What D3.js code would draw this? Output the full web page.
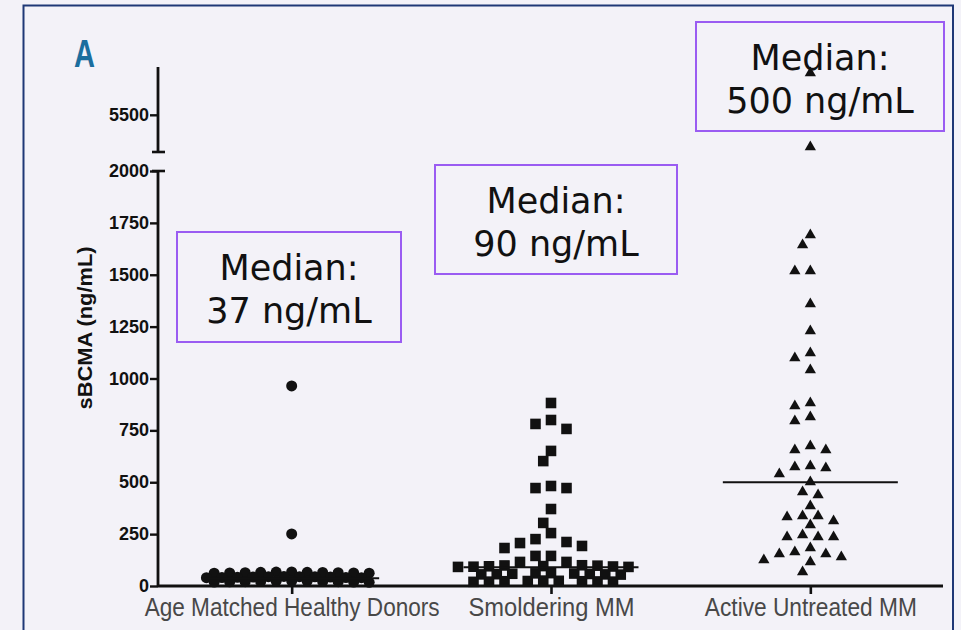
<!DOCTYPE html>
<html>
<head>
<meta charset="utf-8">
<script src="https://cdn.jsdelivr.net/npm/d3@7"></script>
<style>
  html, body { margin: 0; padding: 0; background: #f3f2f8; }
  svg { display: block; }
</style>
</head>
<body>
<svg id="chart" width="961" height="630"></svg>
<script>
// Groups on the x axis
const categories = ["Age Matched Healthy Donors", "Smoldering MM", "Active Untreated MM"];

// sBCMA (ng/mL) per subject
const healthyValues = [964, 251,
  68, 67, 66, 66, 65, 64, 64, 63, 63, 62, 62,
  46, 45, 45, 44, 43, 43, 42, 41, 41, 40, 40,
  24, 23, 23, 22, 22, 21, 21, 20, 19, 19, 18];
const smolderingValues = [882, 800, 781, 757, 651, 602, 482, 472, 472, 371, 304, 255, 226, 212, 207, 193, 183, 145, 145, 116, 116,
  100, 99, 98, 96, 95, 94, 93, 92, 92,
  62, 61, 60, 59, 58, 57, 56, 56, 55,
  26, 25, 24, 23, 23, 22, 21, 21, 20];
const activeValues = [9440, 2470, 1692, 1643, 1518, 1518, 1359, 1229, 1123, 1099, 1041, 882, 867, 814, 795, 675, 655, 655,
  578, 573, 569, 540, 501, 453, 439, 386, 337, 337, 333, 313, 294, 246, 236, 236, 236, 183, 164, 154, 154, 140, 125, 116, 67];

// Group medians and their call-out text
const medians = [37, 90, 500];
const medianTexts = ["37 ng/mL", "90 ng/mL", "500 ng/mL"];

// Axis ticks (the y axis is broken above 2000)
const lowTicks = [0, 250, 500, 750, 1000, 1250, 1500, 1750, 2000];
const highTicks = [5500];

const svg = d3.select("#chart");
const ink = "#111";

// Outer panel frame
svg.append("rect")
  .attr("x", 23.5).attr("y", 5.5).attr("width", 929.5).attr("height", 700)
  .attr("fill", "none").attr("stroke", "#1f3876").attr("stroke-width", 2);

// Panel letter
svg.append("text")
  .attr("x", 74).attr("y", 67)
  .attr("font-family", "'Liberation Sans Narrow', 'Arial Narrow', 'Liberation Sans', sans-serif")
  .attr("font-weight", "bold").attr("font-size", 39)
  .attr("textLength", 21).attr("lengthAdjust", "spacingAndGlyphs")
  .attr("fill", "#1b6e9e")
  .text("A");

// Scales
const axisX = 158;
const x = d3.scalePoint().domain(categories).range([162, 940]).padding(0.5);
const yLow = d3.scaleLinear().domain([0, 2000]).range([586, 171]);
const yHigh = d3.scaleLinear().domain([2000, 10000]).range([152, 67]);
const yPos = v => v <= 2000 ? yLow(v) : yHigh(v);

const tickFont = "'Liberation Sans', Arial, Helvetica, sans-serif";

// Y axes (lower and upper segments)
function styleAxis(g) {
  g.select(".domain").remove();
  g.selectAll(".tick line").attr("stroke", ink).attr("stroke-width", 2.4);
  g.selectAll(".tick text")
    .attr("font-family", tickFont).attr("font-weight", "bold")
    .attr("font-size", 17.5).attr("fill", ink).attr("x", -9)
    .attr("textLength", d => String(d).length * 10)
    .attr("lengthAdjust", "spacingAndGlyphs");
}
svg.append("g").attr("transform", `translate(${axisX},0)`)
  .call(d3.axisLeft(yLow).tickValues(lowTicks).tickSize(8).tickFormat(d3.format("d")))
  .call(styleAxis);
svg.append("g").attr("transform", `translate(${axisX},0)`)
  .call(d3.axisLeft(yHigh).tickValues(highTicks).tickSize(8).tickFormat(d3.format("d")))
  .call(styleAxis);

// Axis spines with break caps
const [lowBottom, lowTop] = yLow.range();
const [highBottom, highTop] = yHigh.range();
svg.append("line").attr("x1", axisX).attr("x2", axisX).attr("y1", lowBottom + 1).attr("y2", lowTop)
  .attr("stroke", ink).attr("stroke-width", 2.8);
svg.append("line").attr("x1", axisX).attr("x2", axisX).attr("y1", highBottom).attr("y2", highTop)
  .attr("stroke", ink).attr("stroke-width", 2.8);
svg.append("line").attr("x1", axisX - 6).attr("x2", axisX + 7).attr("y1", lowTop).attr("y2", lowTop)
  .attr("stroke", ink).attr("stroke-width", 2.6);
svg.append("line").attr("x1", axisX - 6).attr("x2", axisX + 7).attr("y1", highBottom).attr("y2", highBottom)
  .attr("stroke", ink).attr("stroke-width", 2.6);

// Y axis title
svg.append("text")
  .attr("transform", `translate(92, 328) rotate(-90)`)
  .attr("text-anchor", "middle")
  .attr("font-family", tickFont).attr("font-weight", "bold").attr("font-size", 21)
  .attr("textLength", 163).attr("lengthAdjust", "spacingAndGlyphs")
  .attr("fill", ink)
  .text("sBCMA (ng/mL)");

// X axis
const xAxisRight = 943;
svg.append("line").attr("x1", axisX).attr("x2", xAxisRight).attr("y1", lowBottom).attr("y2", lowBottom)
  .attr("stroke", ink).attr("stroke-width", 3);
const xg = svg.append("g").attr("transform", `translate(0,${lowBottom})`)
  .call(d3.axisBottom(x).tickSize(8).tickSizeOuter(0));
xg.select(".domain").remove();
xg.selectAll(".tick line").attr("stroke", ink).attr("stroke-width", 2.6);
const labelWidths = [295, 166, 212];
xg.selectAll(".tick text")
  .attr("y", 30).attr("dy", 0)
  .attr("font-family", "'Liberation Sans Narrow', 'Arial Narrow', 'Liberation Sans', sans-serif")
  .attr("font-size", 25.5).attr("fill", "#484848")
  .attr("textLength", (d, i) => labelWidths[i])
  .attr("lengthAdjust", "spacingAndGlyphs");

// Column scatter layout: each point takes the nearest free half-slot to the column centre.
// Points in the crowded band near zero may pack tighter than the scattered ones above it.
function swarm(values, cx, step, gap, bandGap, bandLimit) {
  const pts = values.map(v => ({ v, y: yPos(v) })).sort((a, b) => a.y - b.y);
  const placed = [];
  for (const p of pts) {
    for (let k = 0; k < 200; k++) {
      const n = Math.ceil(k / 2);
      const off = (k % 2 ? -n : n) * step / 2;
      const px = cx + off;
      const hit = placed.some(q => {
        const g = (p.v < bandLimit && q.v < bandLimit) ? bandGap : gap;
        const dx = Math.abs(q.x - px), dy = Math.abs(q.y - p.y);
        return (dx < step * 0.95 && dy < g) || (dx < 1 && dy < g * 1.6);
      });
      if (!hit) { p.x = px; placed.push(p); break; }
    }
  }
  return pts;
}

const groups = [
  { values: healthyValues, symbol: d3.symbolCircle, size: 95, gap: 3.2, bandGap: 3.2, bandLimit: 105 },
  { values: smolderingValues, symbol: d3.symbolSquare, size: 112, gap: 10, bandGap: 6, bandLimit: 105 },
  { values: activeValues, symbol: d3.symbolTriangle, size: 55, gap: 8.5, bandGap: 8.5, bandLimit: 105 }
];

groups.forEach((g, i) => {
  const pts = swarm(g.values, x(categories[i]), 15.5, g.gap, g.bandGap, g.bandLimit);
  svg.append("g").selectAll("path").data(pts).join("path")
    .attr("d", d3.symbol(g.symbol, g.size))
    .attr("transform", d => `translate(${d.x},${d.y})`)
    .attr("fill", ink);
});

// Median lines
const halfWidth = 87.5;
svg.append("g").selectAll("line").data(medians).join("line")
  .attr("x1", (d, i) => x(categories[i]) - halfWidth)
  .attr("x2", (d, i) => x(categories[i]) + halfWidth)
  .attr("y1", d => yLow(d)).attr("y2", d => yLow(d))
  .attr("stroke", ink).attr("stroke-width", 2);

// Median call-out boxes
const boxes = [
  { left: 177, top: 232, width: 224, height: 110 },
  { left: 435, top: 165, width: 242, height: 109 },
  { left: 696, top: 22, width: 248, height: 109 }
];
const boxFont = "'DejaVu Sans', Verdana, sans-serif";
boxes.forEach((b, i) => {
  const g = svg.append("g");
  g.append("rect")
    .attr("x", b.left).attr("y", b.top).attr("width", b.width).attr("height", b.height)
    .attr("fill", "none").attr("stroke", "#9a5cf2").attr("stroke-width", 2);
  const cx = b.left + b.width / 2;
  g.append("text").attr("x", cx).attr("y", b.top + 48)
    .attr("text-anchor", "middle").attr("font-family", boxFont).attr("font-size", 35)
    .attr("fill", ink).text("Median:");
  g.append("text").attr("x", cx).attr("y", b.top + 91)
    .attr("text-anchor", "middle").attr("font-family", boxFont).attr("font-size", 35)
    .attr("fill", ink).text(medianTexts[i]);
});
</script>
</body>
</html>
